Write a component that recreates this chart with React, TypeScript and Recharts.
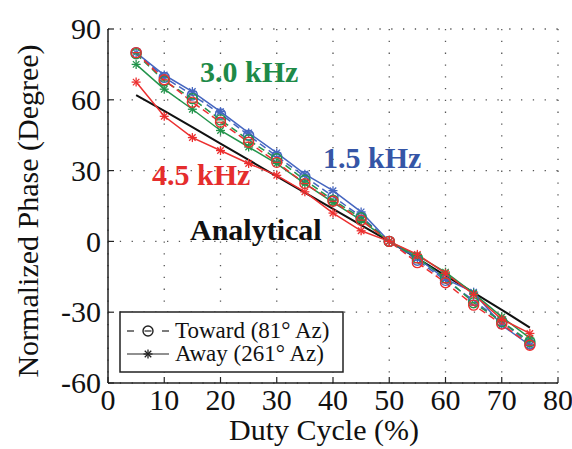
import { LineChart, Line, XAxis, YAxis, CartesianGrid } from "recharts";

// duty cycle (%) where every series was measured
const duty = [5, 10, 15, 20, 25, 30, 35, 40, 45, 50, 55, 60, 65, 70, 75];

// normalized phase (deg)
const analytical = [62, 55.3, 48.4, 41.4, 34.5, 27.6, 20.7, 13.8, 6.9, 0, -7.2, -14.5, -21.7, -29, -36.5];

const blueToward = [80, 69.5, 62, 54, 45, 36, 27.5, 19, 10.5, 0, -8, -16.5, -25, -34, -43.5];
const blueAway = [80, 70.5, 63.5, 55, 46, 37.5, 28.5, 21.5, 12.5, 0, -7, -16, -21.5, -35.5, -44];
const greenToward = [79.5, 68, 60.5, 51.5, 43, 35, 26, 17.5, 10, 0, -7, -15.5, -26, -34, -42.5];
const greenAway = [75, 64.5, 56, 47, 40, 33, 24.5, 16.5, 9, 0, -6, -13, -22, -32, -41];
const redToward = [80, 68.5, 59, 50.5, 42, 33.5, 24.5, 17, 9, 0, -9, -17.5, -27, -35, -44];
const redAway = [67.5, 53, 44, 38.5, 33, 28, 21, 12, 4.5, 0, -5.5, -13.5, -22.5, -33, -39];

const xTicks = [0, 10, 20, 30, 40, 50, 60, 70, 80];
const yTicks = [-60, -30, 0, 30, 60, 90];

const BLUE = "#4566c0";
const GREEN = "#23944c";
const RED = "#ec2f2f";
const FONT = "'Liberation Serif', 'Times New Roman', serif";

const data = duty.map((d, i) => ({
  duty: d,
  analytical: analytical[i],
  blueToward: blueToward[i],
  blueAway: blueAway[i],
  greenToward: greenToward[i],
  greenAway: greenAway[i],
  redToward: redToward[i],
  redAway: redAway[i],
}));

const series = [
  { key: "blueToward", color: BLUE, toward: true },
  { key: "blueAway", color: BLUE, toward: false },
  { key: "greenToward", color: GREEN, toward: true },
  { key: "greenAway", color: GREEN, toward: false },
  { key: "redToward", color: RED, toward: true },
  { key: "redAway", color: RED, toward: false },
];

function Ring({ cx, cy, color }: { cx?: number; cy?: number; color: string }) {
  if (cx == null || cy == null) return null;
  return (
    <g>
      <circle cx={cx} cy={cy} r={5} fill="none" stroke={color} strokeWidth={1.4} />
      <line x1={cx - 3.5} x2={cx + 3.5} y1={cy} y2={cy} stroke={color} strokeWidth={1.2} />
    </g>
  );
}

function Star({ cx, cy, color }: { cx?: number; cy?: number; color: string }) {
  if (cx == null || cy == null) return null;
  const r = 4.5;
  const d = r * 0.72;
  return (
    <g stroke={color} strokeWidth={1.3}>
      <line x1={cx - r} x2={cx + r} y1={cy} y2={cy} />
      <line x1={cx} x2={cx} y1={cy - r} y2={cy + r} />
      <line x1={cx - d} x2={cx + d} y1={cy - d} y2={cy + d} />
      <line x1={cx - d} x2={cx + d} y1={cy + d} y2={cy - d} />
    </g>
  );
}

// ticks point inward, labels sit outside
function BottomTick({ x, y, payload }: any) {
  return (
    <g>
      <line x1={x} x2={x} y1={y} y2={y - 6} stroke="#222" strokeWidth={1.2} />
      <text x={x} y={y + 27} textAnchor="middle" fontSize={30} fontFamily={FONT} fill="#111">
        {payload.value}
      </text>
    </g>
  );
}

function LeftTick({ x, y, payload }: any) {
  return (
    <g>
      <line x1={x} x2={x + 6} y1={y} y2={y} stroke="#222" strokeWidth={1.2} />
      <text x={x - 7} y={y} dy="0.34em" textAnchor="end" fontSize={30} fontFamily={FONT} fill="#111">
        {payload.value}
      </text>
    </g>
  );
}

function TopTick({ x, y }: any) {
  return <line x1={x} x2={x} y1={y} y2={y + 6} stroke="#222" strokeWidth={1.2} />;
}

function RightTick({ x, y }: any) {
  return <line x1={x} x2={x - 6} y1={y} y2={y} stroke="#222" strokeWidth={1.2} />;
}

function Note({ text, color, left, top }: { text: string; color: string; left: number; top: number }) {
  return (
    <div
      style={{
        position: "absolute",
        left,
        top,
        fontFamily: FONT,
        fontWeight: "bold",
        fontSize: 30,
        lineHeight: 1,
        color,
        whiteSpace: "nowrap",
      }}
    >
      {text}
    </div>
  );
}

function LegendBox() {
  return (
    <svg width={225} height={62} style={{ position: "absolute", left: 119, top: 311 }}>
      <rect x={1} y={1} width={223} height={60} fill="#fff" stroke="#222" strokeWidth={1.5} />
      <line x1={8} x2={15} y1={20} y2={20} stroke="#222" strokeWidth={1.2} />
      <Ring cx={29} cy={20} color="#222" />
      <line x1={43} x2={50} y1={20} y2={20} stroke="#222" strokeWidth={1.2} />
      <text x={56} y={27} fontSize={23} fontFamily={FONT} fill="#111">
        Toward (81° Az)
      </text>
      <line x1={8} x2={50} y1={43} y2={43} stroke="#222" strokeWidth={1.2} />
      <Star cx={29} cy={43} color="#222" />
      <text x={56} y={50} fontSize={23} fontFamily={FONT} fill="#111">
        Away (261° Az)
      </text>
    </svg>
  );
}

export default function App() {
  return (
    <div style={{ position: "absolute", left: 0, top: 0, width: 572, height: 449, background: "#fff" }}>
      <LineChart width={572} height={449} data={data} margin={{ top: 29, right: 14, bottom: 36, left: 48 }}>
        <CartesianGrid stroke="#555" strokeWidth={1.3} strokeDasharray="1.3 10.5" />
        <XAxis
          dataKey="duty"
          type="number"
          domain={[0, 80]}
          ticks={xTicks}
          height={30}
          tickSize={0}
          tickMargin={0}
          tick={<BottomTick />}
          axisLine={{ stroke: "#222", strokeWidth: 1.5 }}
          tickLine={false}
        />
        <XAxis
          xAxisId="top"
          orientation="top"
          type="number"
          domain={[0, 80]}
          ticks={xTicks}
          height={0}
          tickSize={0}
          tickMargin={0}
          tick={<TopTick />}
          axisLine={{ stroke: "#222", strokeWidth: 1.5 }}
          tickLine={false}
        />
        <YAxis
          type="number"
          domain={[-60, 90]}
          ticks={yTicks}
          width={60}
          tickSize={0}
          tickMargin={0}
          tick={<LeftTick />}
          axisLine={{ stroke: "#222", strokeWidth: 1.5 }}
          tickLine={false}
        />
        <YAxis
          yAxisId="right"
          orientation="right"
          type="number"
          domain={[-60, 90]}
          ticks={yTicks}
          width={0}
          tickSize={0}
          tickMargin={0}
          tick={<RightTick />}
          axisLine={{ stroke: "#222", strokeWidth: 1.5 }}
          tickLine={false}
        />
        <Line
          dataKey="analytical"
          type="linear"
          stroke="#111"
          strokeWidth={2}
          dot={false}
          isAnimationActive={false}
        />
        {series.map((s) => (
          <Line
            key={s.key}
            dataKey={s.key}
            type="linear"
            stroke={s.color}
            strokeWidth={1.5}
            strokeDasharray={s.toward ? "7 4" : undefined}
            dot={(p: any) =>
              s.toward ? (
                <Ring key={`${s.key}-${p.index}`} cx={p.cx} cy={p.cy} color={s.color} />
              ) : (
                <Star key={`${s.key}-${p.index}`} cx={p.cx} cy={p.cy} color={s.color} />
              )
            }
            isAnimationActive={false}
          />
        ))}
      </LineChart>

      <Note text="3.0 kHz" color="#1e8a48" left={200} top={57} />
      <Note text="1.5 kHz" color="#3555a6" left={323} top={143} />
      <Note text="4.5 kHz" color="#e52d2d" left={152} top={160} />
      <Note text="Analytical" color="#111" left={190} top={215} />

      <LegendBox />

      <div
        style={{
          position: "absolute",
          left: 28,
          top: 211,
          transform: "translate(-50%, -50%) rotate(-90deg)",
          fontFamily: FONT,
          fontSize: 30,
          lineHeight: 1,
          color: "#111",
          whiteSpace: "nowrap",
        }}
      >
        Normalized Phase (Degree)
      </div>
      <div
        style={{
          position: "absolute",
          left: 324,
          top: 415,
          transform: "translateX(-50%)",
          fontFamily: FONT,
          fontSize: 30,
          lineHeight: 1,
          color: "#111",
          whiteSpace: "nowrap",
        }}
      >
        Duty Cycle (%)
      </div>
    </div>
  );
}
